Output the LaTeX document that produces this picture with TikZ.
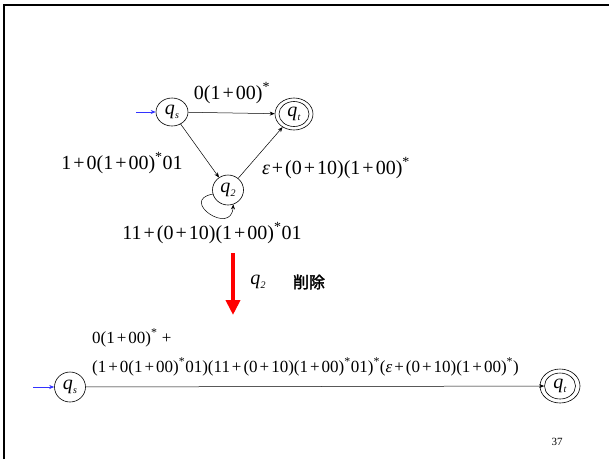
\documentclass[tikz,border=0pt]{standalone}
\usepackage{fontspec}
\setmainfont{Liberation Serif}
\newfontfamily\tms{Liberation Serif}
\newfontfamily\cjk[AutoFakeBold=2]{Noto Sans CJK JP}
\usetikzlibrary{shapes.geometric,arrows.meta}
% small building blocks for the regular expressions
\newcommand\pl{\kern2pt+\kern2pt}
\newcommand\st{\textsuperscript{*}}
\newcommand\stname[1]{\textit{q}\kern0.3pt\raisebox{-0.45ex}{\fontsize{10}{10}\selectfont\textit{#1}}}
\begin{document}
\begin{tikzpicture}[x=1pt,y=-1pt,
  state/.style={ellipse,draw,line width=0.6pt,inner sep=0pt,
    minimum width=32pt,minimum height=28pt,font=\tms\fontsize{20}{20}\selectfont},
  lab/.style={font=\tms\fontsize{20}{20}\selectfont,inner sep=0pt},
  biglab/.style={font=\tms\fontsize{17}{17}\selectfont,inner sep=0pt,anchor=west},
  edge/.style={line width=0.5pt,-{Stealth[length=5pt,width=4pt]}},
  entry/.style={blue!80!white,line width=0.6pt,-{Stealth[length=5pt,width=4pt]}}]
\useasboundingbox (0,0) rectangle (609,459);
% slide frame
\draw[line width=2.5pt] (4,459) -- (4,5) -- (609,5);

% automaton before elimination
\node[state] (qs) at (172,112) {\stname{s}};
\node[state,minimum width=38pt,minimum height=32pt] (qt) at (294,114) {};
\node[state,minimum width=30pt,minimum height=25pt] (qti) at (qt) {\stname{t}};
\node[state,minimum width=31pt,minimum height=30pt] (q2) at (228,190) {\stname{2}};
\coordinate (in1) at (136,112);
\draw[entry] (in1) -- (qs);
\draw[edge] (qs) -- (qt);
\draw[edge] (qs) -- (q2);
\draw[edge] (q2) -- (qt);
\draw[edge] (q2.195) .. controls +(-34,6) and +(-2,32) .. (q2.290);
\node[lab] (l1) at (232,93) {0(1\pl00)\st};
\node[lab] (l2) at (122,163) {1\pl0(1\pl00)\st01};
\node[lab] (l3) at (336,168) {\textit{ε}\pl(0\pl10)(1\pl00)\st};
\node[lab] (l4) at (212,233) {11\pl(0\pl10)(1\pl00)\st01};

% elimination step
\coordinate (ra) at (233,253);
\coordinate (rb) at (233,315);
\draw[red,line width=4pt,-{Triangle[length=15pt,width=14pt]}] (ra) -- (rb);
\node[font=\tms\fontsize{20}{20}\selectfont,inner sep=0pt] (lq) at (258,282) {\stname{2}};
\node[font=\cjk\bfseries\fontsize{16}{16}\selectfont,inner sep=0pt] (del) at (309,282) {削除};

% automaton after elimination
\node[state,minimum width=31pt,minimum height=30pt] (bs) at (70,387) {\stname{s}};
\node[state,minimum width=40pt,minimum height=34pt] (bt) at (560,386) {};
\node[state,minimum width=31pt,minimum height=26pt] (bti) at (bt) {\stname{t}};
\coordinate (in2) at (33,387);
\draw[entry] (in2) -- (bs);
\draw[edge] (bs) -- (bti);
\node[biglab] (b1) at (92,338) {0(1\pl00)\st\ +};
\node[biglab] (b2) at (92,367) {(1\pl0(1\pl00)\st01)(11\pl(0\pl10)(1\pl00)\st01)\st(\textit{ε}\pl(0\pl10)(1\pl00)\st)};

\node[font=\tms\fontsize{11}{11}\selectfont,inner sep=0pt] (pg) at (557,442) {37};
\end{tikzpicture}
\end{document}
